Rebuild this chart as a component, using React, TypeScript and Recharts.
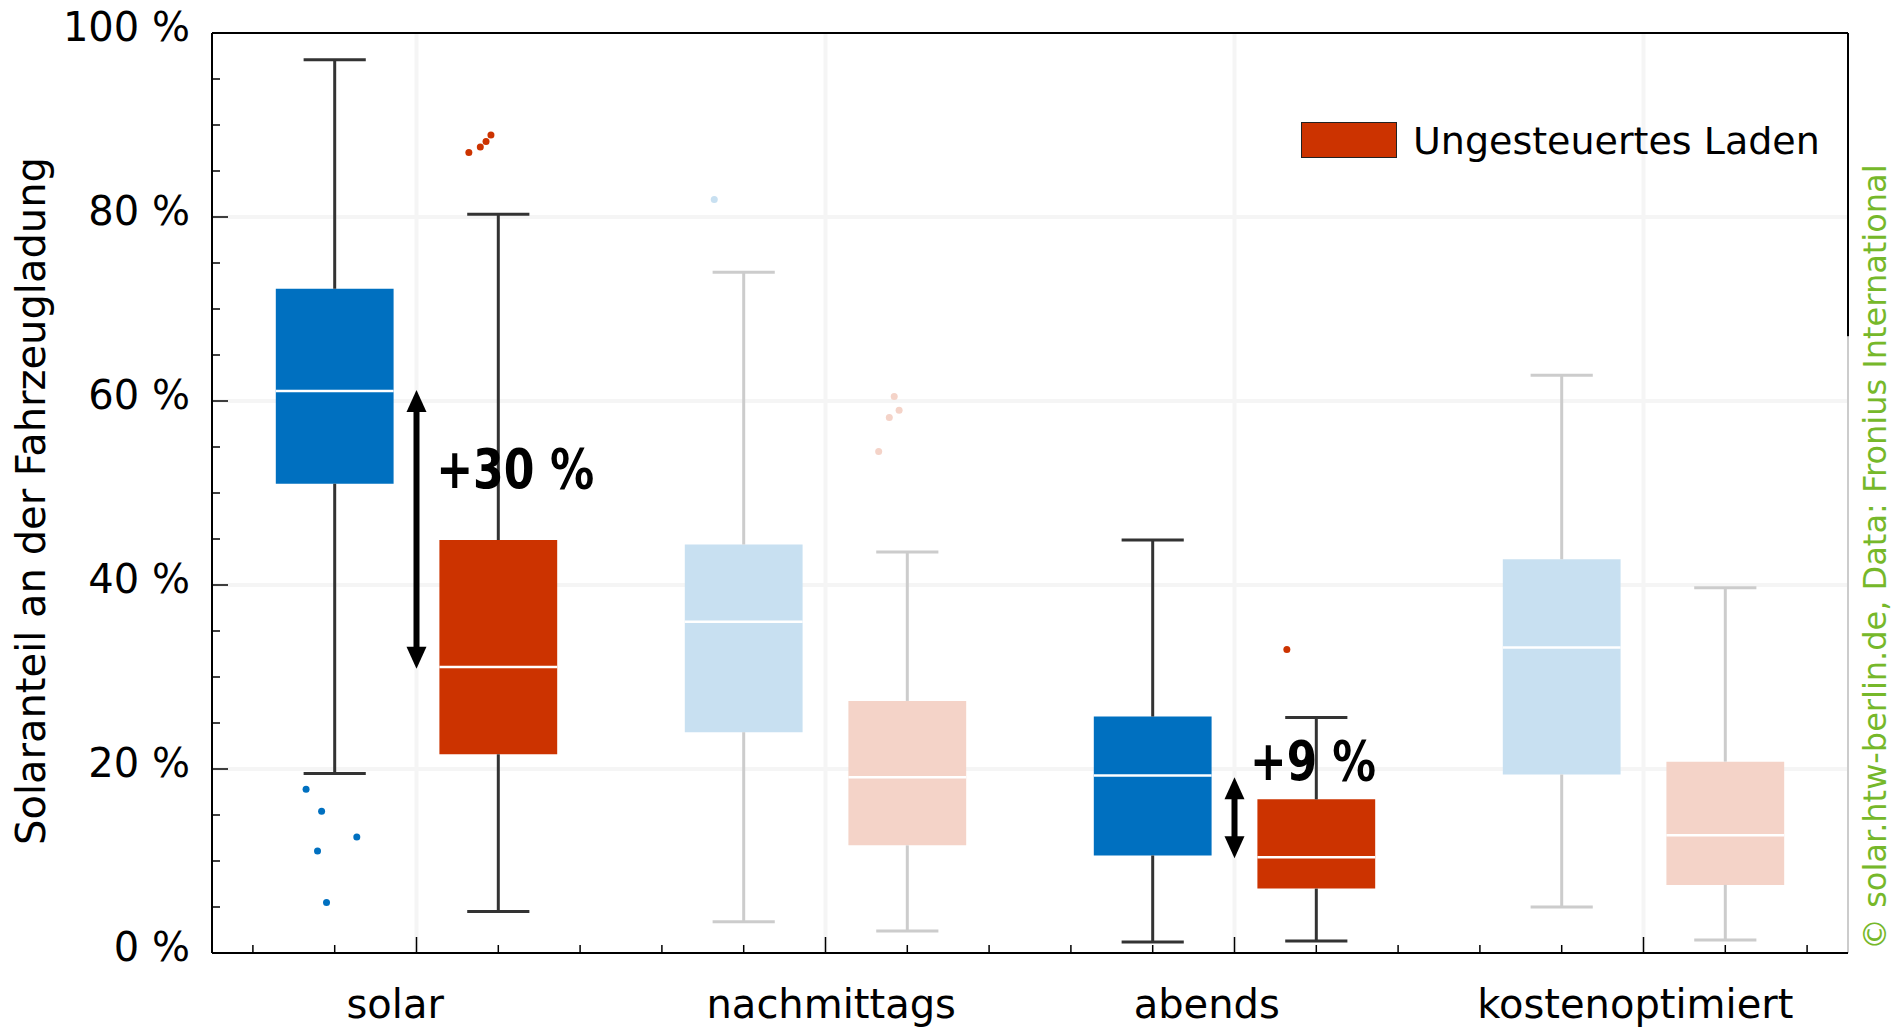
import React from 'react';
import {
  ComposedChart,
  XAxis,
  YAxis,
  CartesianGrid,
  ReferenceArea,
  ReferenceLine,
  ReferenceDot,
  Scatter,
  Legend,
  Label,
} from 'recharts';

// categories and where their labels sit on the 0..20 x scale
const groups = ['solar', 'nachmittags', 'abends', 'kostenoptimiert'];
const groupLabelX = [2.24, 7.57, 12.16, 17.4];
const groupCenters = [2.5, 7.5, 12.5, 17.5];

// box plot statistics (% solar share), two boxes per group: gesteuert / ungesteuert
const boxX = [1.5, 3.5, 6.5, 8.5, 11.5, 13.5, 16.5, 18.5];
const boxMin = [19.5, 4.5, 3.4, 2.4, 1.2, 1.3, 5.0, 1.4];
const boxQ1 = [51.0, 21.6, 24.0, 11.7, 10.6, 7.0, 19.4, 7.4];
const boxMed = [61.1, 31.1, 36.0, 19.1, 19.3, 10.4, 33.2, 12.8];
const boxQ3 = [72.2, 44.9, 44.4, 27.4, 25.7, 16.7, 42.8, 20.8];
const boxMax = [97.1, 80.3, 74.0, 43.6, 44.9, 25.6, 62.8, 39.7];
const boxSeries = ['blue', 'red', 'blue', 'red', 'blue', 'red', 'blue', 'red'];
const boxFaded = [false, false, true, true, false, false, true, true];

// outliers
const outSolarBlue = [
  { x: 1.15, y: 17.8 },
  { x: 1.34, y: 15.4 },
  { x: 1.77, y: 12.6 },
  { x: 1.29, y: 11.1 },
  { x: 1.4, y: 5.5 },
];
const outSolarRed = [
  { x: 3.14, y: 87.0 },
  { x: 3.28, y: 87.6 },
  { x: 3.35, y: 88.2 },
  { x: 3.41, y: 88.9 },
];
const outNachmBlue = [{ x: 6.14, y: 81.9 }];
const outNachmRed = [
  { x: 8.34, y: 60.5 },
  { x: 8.4, y: 59.0 },
  { x: 8.28, y: 58.2 },
  { x: 8.15, y: 54.5 },
];
const outAbendsRed = [{ x: 13.14, y: 33.0 }];

// difference arrows
const arrowX = [2.5, 12.5];
const arrowFrom = [30.9, 10.3];
const arrowTo = [61.2, 19.1];
const arrowLabels = ['+30 %', '+9 %'];
const arrowLabelX = [2.74, 12.69];
const arrowLabelY = [50.5, 18.8];
const arrowLabelW = [158, 126];

const xTicks = [0.5, 1.5, 2.5, 3.5, 4.5, 5.5, 6.5, 7.5, 8.5, 9.5, 10.5, 11.5, 12.5, 13.5, 14.5, 15.5, 16.5, 17.5, 18.5, 19.5];
const yTicks = [0, 5, 10, 15, 20, 25, 30, 35, 40, 45, 50, 55, 60, 65, 70, 75, 80, 85, 90, 95, 100];

const FONT = '"DejaVu Sans", Verdana, sans-serif';
const BLUE = '#0070c0';
const RED = '#cc3300';
const BLUE_L = '#c8e0f1';
const RED_L = '#f4d3c8';
const DARK = '#333333';
const LIGHT = '#cccccc';

const boxFill = (i: number) =>
  boxSeries[i] === 'blue' ? (boxFaded[i] ? BLUE_L : BLUE) : boxFaded[i] ? RED_L : RED;
const whiskerColor = (i: number) => (boxFaded[i] ? LIGHT : DARK);

const isMajorX = (v: number) => groupCenters.includes(v);

// bottom axis: tick marks pointing inward plus the category names
const BottomTick = (p: any) => {
  const v = p.payload.value;
  const gi = groupLabelX.indexOf(v);
  if (gi >= 0) {
    return (
      <text x={p.x} y={p.y + 65} textAnchor="middle" fontSize={40} fontFamily={FONT} fill="#000">
        {groups[gi]}
      </text>
    );
  }
  const len = isMajorX(v) ? 16 : 8;
  return <line x1={p.x} x2={p.x} y1={p.y} y2={p.y - len} stroke="#000" strokeWidth={1.5} />;
};
const TopTick = (p: any) => {
  const len = isMajorX(p.payload.value) ? 16 : 8;
  return <line x1={p.x} x2={p.x} y1={p.y} y2={p.y + len} stroke="#000" strokeWidth={1.5} />;
};
const LeftTick = (p: any) => {
  const v = p.payload.value;
  const major = v % 20 === 0;
  return (
    <g>
      <line x1={p.x} x2={p.x + (major ? 16 : 8)} y1={p.y} y2={p.y} stroke="#000" strokeWidth={1.5} />
      {major && (
        <text x={p.x - 22} y={p.y + 8} textAnchor="end" fontSize={40} fontFamily={FONT} fill="#000">
          {v} %
        </text>
      )}
    </g>
  );
};
const RightTick = (p: any) => {
  const v = p.payload.value;
  const major = v % 20 === 0;
  return (
    <line
      x1={p.x}
      x2={p.x - (major ? 16 : 8)}
      y1={p.y}
      y2={p.y}
      stroke={v >= 70 ? '#000' : LIGHT}
      strokeWidth={1.5}
    />
  );
};

const DoubleArrow = (p: any) => {
  const x = p.x1;
  const top = Math.min(p.y1, p.y2);
  const bot = Math.max(p.y1, p.y2);
  const hw = 10;
  const hl = 22;
  return (
    <g>
      <line x1={x} x2={x} y1={top + hl - 2} y2={bot - hl + 2} stroke="#000" strokeWidth={6} />
      <polygon points={`${x},${top} ${x - hw},${top + hl} ${x + hw},${top + hl}`} fill="#000" />
      <polygon points={`${x},${bot} ${x - hw},${bot - hl} ${x + hw},${bot - hl}`} fill="#000" />
    </g>
  );
};

const dot = (color: string) => (p: any) => <circle cx={p.cx} cy={p.cy} r={3.5} fill={color} />;

const LegendBox = () => (
  <div style={{ display: 'flex', alignItems: 'center', fontFamily: FONT }}>
    <div style={{ width: 94, height: 34, background: RED, border: '1.5px solid #222' }} />
    <span style={{ fontSize: 38, marginLeft: 16, color: '#000', lineHeight: '44px', marginTop: 2 }}>
      Ungesteuertes Laden
    </span>
  </div>
);

export default function App() {
  return (
    <div style={{ position: 'absolute', left: 0, top: 0, background: '#fff' }}>
      <ComposedChart width={1898} height={1029} margin={{ top: 32, right: 49, bottom: 75, left: 211 }}>
        <CartesianGrid
          horizontalValues={[20, 40, 60, 80]}
          verticalValues={groupCenters}
          stroke="#f5f5f5"
          strokeWidth={4}
        />
        <XAxis
          xAxisId={0}
          type="number"
          dataKey="x"
          domain={[0, 20]}
          ticks={[...xTicks, ...groupLabelX]}
          interval={0}
          height={1}
          tickSize={0}
          tickMargin={0}
          tick={BottomTick}
          axisLine={{ stroke: '#000', strokeWidth: 2 }}
          tickLine={false}
        />
        <XAxis
          xAxisId="top"
          orientation="top"
          type="number"
          domain={[0, 20]}
          ticks={xTicks}
          interval={0}
          height={1}
          tickSize={0}
          tickMargin={0}
          tick={TopTick}
          axisLine={{ stroke: '#000', strokeWidth: 2 }}
          tickLine={false}
        />
        <YAxis
          yAxisId={0}
          type="number"
          dataKey="y"
          domain={[0, 100]}
          ticks={yTicks}
          interval={0}
          width={1}
          tickSize={0}
          tickMargin={0}
          tick={LeftTick}
          axisLine={{ stroke: '#000', strokeWidth: 2 }}
          tickLine={false}
        >
          <Label
            content={() => {
              const cy = 501;
              const cx = 45;
              return (
                <text
                  x={cx}
                  y={cy}
                  transform={`rotate(-90 ${cx} ${cy})`}
                  textAnchor="middle"
                  fontSize={40}
                  fontFamily={FONT}
                  fill="#000"
                >
                  Solaranteil an der Fahrzeugladung
                </text>
              );
            }}
          />
        </YAxis>
        <YAxis
          yAxisId="r"
          orientation="right"
          type="number"
          domain={[0, 100]}
          ticks={yTicks}
          interval={0}
          width={1}
          tickSize={0}
          tickMargin={0}
          tick={RightTick}
          axisLine={false}
          tickLine={false}
        >
          <Label
            content={() => {
              const cx = 1886;
              const cy = 950;
              return (
                <text
                  x={cx}
                  y={cy}
                  transform={`rotate(-90 ${cx} ${cy})`}
                  textAnchor="start"
                  fontSize={32}
                  fontFamily={FONT}
                  fill="#76b82a"
                >
                  © solar.htw-berlin.de, Data: Fronius International
                </text>
              );
            }}
          />
        </YAxis>

        {/* right border: black on top, grey below */}
        <ReferenceLine segment={[{ x: 20, y: 67 }, { x: 20, y: 100 }]} stroke="#000" strokeWidth={2} />
        <ReferenceLine segment={[{ x: 20, y: 0 }, { x: 20, y: 67 }]} stroke={LIGHT} strokeWidth={2} />

        {arrowLabels.map((t, i) => (
          <ReferenceDot
            key={'al' + i}
            x={arrowLabelX[i]}
            y={arrowLabelY[i]}
            r={0}
            shape={(p: any) => (
              <text
                x={p.cx}
                y={p.cy}
                fontSize={56}
                fontWeight="bold"
                fontFamily='"DejaVu Sans Condensed", "DejaVu Sans", sans-serif'
                textLength={arrowLabelW[i]}
                lengthAdjust="spacingAndGlyphs"
                fill="#000"
              >
                {t}
              </text>
            )}
          />
        ))}

        {boxX.map((x, i) => (
          <ReferenceArea
            key={'b' + i}
            x1={x - 0.72}
            x2={x + 0.72}
            y1={boxQ1[i]}
            y2={boxQ3[i]}
            fill={boxFill(i)}
            fillOpacity={1}
            stroke="none"
          />
        ))}
        {boxX.map((x, i) => (
          <ReferenceLine
            key={'m' + i}
            segment={[{ x: x - 0.72, y: boxMed[i] }, { x: x + 0.72, y: boxMed[i] }]}
            stroke="#fff"
            strokeWidth={2.5}
          />
        ))}
        {boxX.map((x, i) => (
          <ReferenceLine
            key={'wu' + i}
            segment={[{ x, y: boxQ3[i] }, { x, y: boxMax[i] }]}
            stroke={whiskerColor(i)}
            strokeWidth={3}
          />
        ))}
        {boxX.map((x, i) => (
          <ReferenceLine
            key={'wl' + i}
            segment={[{ x, y: boxMin[i] }, { x, y: boxQ1[i] }]}
            stroke={whiskerColor(i)}
            strokeWidth={3}
          />
        ))}
        {boxX.map((x, i) => (
          <ReferenceLine
            key={'cu' + i}
            segment={[{ x: x - 0.38, y: boxMax[i] }, { x: x + 0.38, y: boxMax[i] }]}
            stroke={whiskerColor(i)}
            strokeWidth={3}
          />
        ))}
        {boxX.map((x, i) => (
          <ReferenceLine
            key={'cl' + i}
            segment={[{ x: x - 0.38, y: boxMin[i] }, { x: x + 0.38, y: boxMin[i] }]}
            stroke={whiskerColor(i)}
            strokeWidth={3}
          />
        ))}

        {arrowX.map((x, i) => (
          <ReferenceLine
            key={'ar' + i}
            segment={[{ x, y: arrowFrom[i] }, { x, y: arrowTo[i] }]}
            shape={DoubleArrow}
          />
        ))}

        <Scatter data={outSolarBlue} dataKey="y" isAnimationActive={false} shape={dot(BLUE)} legendType="none" />
        <Scatter data={outSolarRed} dataKey="y" isAnimationActive={false} shape={dot(RED)} legendType="none" />
        <Scatter data={outNachmBlue} dataKey="y" isAnimationActive={false} shape={dot(BLUE_L)} legendType="none" />
        <Scatter data={outNachmRed} dataKey="y" isAnimationActive={false} shape={dot(RED_L)} legendType="none" />
        <Scatter data={outAbendsRed} dataKey="y" isAnimationActive={false} shape={dot(RED)} legendType="none" />

        <Legend
          layout="horizontal"
          verticalAlign="middle"
          align="center"
          content={() => <LegendBox />}
          wrapperStyle={{ position: 'absolute', left: 1301, top: 117, width: 'auto', height: 'auto' }}
        />
      </ComposedChart>
    </div>
  );
}
